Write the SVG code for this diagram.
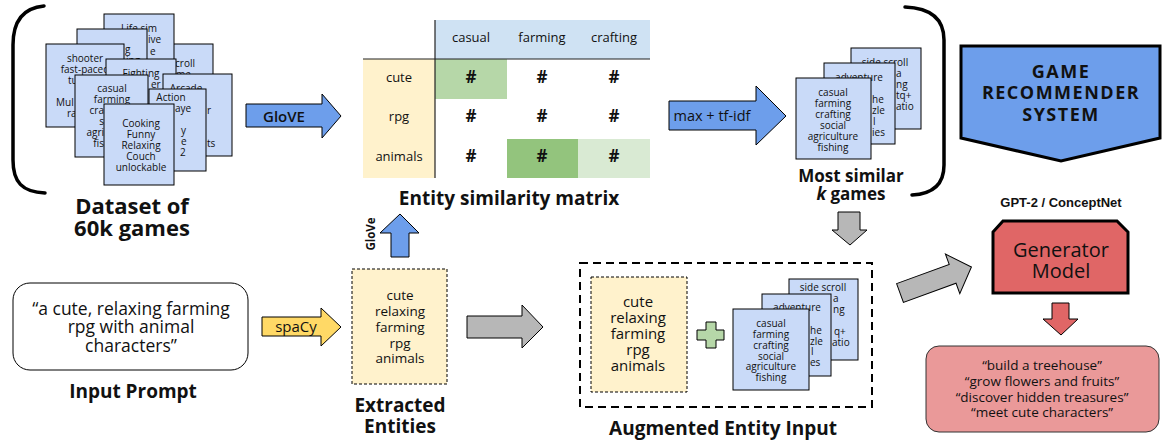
<svg xmlns="http://www.w3.org/2000/svg" width="1175" height="447" viewBox="0 0 1175 447">
<style>
text{font-family:"Open Sans","Liberation Sans",sans-serif;fill:#111;font-weight:500}
.card{fill:#c9daf8;stroke:#000;stroke-width:1}
.ct{font-size:10px;text-anchor:middle}
.fs{font-size:10px}
.ttl{font-size:19px;font-weight:700;text-anchor:middle}
.ar{stroke:#000;stroke-width:1}
.blue{fill:#6d9eeb}
.grey{fill:#b7b7b7}
.yel{fill:#fff2cc}
.mt{font-size:13px;text-anchor:middle}
.hs{font-size:17px;font-weight:700;text-anchor:middle}
.brk{fill:none;stroke:#000;stroke-width:3.5;stroke-linecap:round}
.dash{stroke:#000;stroke-width:1;stroke-dasharray:3 2}
</style>

<g id="bracket-left"><path class="brk" d="M44 6 C22 8 13 22 13 45 L13 160 C13 182 22 192 45 193"/></g>
<g id="bracket-right"><path class="brk" d="M905 7 C930 8 944 18 944 40 L944 165 C944 185 932 194 912 195"/></g>

<g id="dataset">
  <rect class="card" x="143" y="44" width="70" height="82"/>
  <text class="fs" x="175" y="66.5">croll</text>
  <text class="fs" x="176" y="77.5">me</text>
  <rect class="card" x="104" y="14" width="70" height="82"/>
  <text class="ct" x="139" y="31.5">Life sim</text>
  <text class="fs" x="148" y="42.5">ive</text>
  <text class="fs" x="150" y="54.5">e</text>
  <rect class="card" x="77" y="29" width="70" height="82"/>
  <text class="fs" x="125" y="52.5">g</text>
  <text class="fs" x="126" y="63.5">ing</text>
  <rect class="card" x="46" y="44" width="78" height="83"/>
  <text class="ct" x="85" y="61.5">shooter</text>
  <text class="ct" x="85" y="72.5">fast-paced</text>
  <text class="fs" x="68" y="83.5">tu</text>
  <text class="fs" x="56" y="105.5">Mul</text>
  <text class="fs" x="67" y="116.5">ra</text>
  <rect class="card" x="106" y="59" width="70" height="82"/>
  <text class="ct" x="141" y="76.5">Fighting</text>
  <text class="fs" x="151" y="87.5">er</text>
  <rect class="card" x="163" y="74" width="69" height="82"/>
  <text class="ct" x="186" y="91.5">Arcade</text>
  <text class="fs" x="207" y="113.5">r</text>
  <text class="fs" x="207" y="146.5">ts</text>
  <rect class="card" x="75" y="75" width="73" height="82"/>
  <text class="ct"><tspan x="112" y="91.5">casual</tspan><tspan x="112" y="102.5">farming</tspan></text>
  <text class="fs" text-anchor="end"><tspan x="104" y="113.5">cra</tspan><tspan x="104" y="124.5">s</tspan><tspan x="104" y="135.5">agri</tspan><tspan x="104" y="146.5">fis</tspan></text>
  <rect class="card" x="149" y="89" width="57" height="82"/>
  <text class="ct" x="171" y="100.5">Action</text>
  <text class="fs" x="175" y="111.5">aye</text>
  <text class="fs" x="181" y="133.5">y</text>
  <text class="fs" x="181" y="144.5">e</text>
  <text class="fs" x="180" y="155.5">2</text>
  <rect class="card" x="104" y="104" width="70" height="81"/>
  <text class="ct"><tspan x="141" y="126.5">Cooking</tspan><tspan x="141" y="137.5">Funny</tspan><tspan x="141" y="148.5">Relaxing</tspan><tspan x="141" y="159.5">Couch</tspan><tspan x="141" y="170.5">unlockable</tspan></text>
  <text class="ttl" x="132" y="214" style="font-size:22px">Dataset of</text>
  <text class="ttl" x="132" y="236" style="font-size:22px">60k games</text>
</g>

<g id="matrix">
  <rect x="435" y="20" width="215" height="39" fill="#cfe2f3"/>
  <rect x="363" y="59" width="72" height="119" fill="#fff2cc"/>
  <rect x="435" y="59" width="72" height="40" fill="#b6d7a8"/>
  <rect x="507" y="139" width="71" height="39" fill="#93c47d"/>
  <rect x="578" y="139" width="72" height="39" fill="#d9ead3"/>
  <line x1="435" y1="20" x2="435" y2="178" stroke="#222" stroke-width="1.2"/>
  <line x1="363" y1="59" x2="650" y2="59" stroke="#222" stroke-width="1.2"/>
  <text class="mt" x="471" y="41.5">casual</text>
  <text class="mt" x="542" y="41.5">farming</text>
  <text class="mt" x="614" y="41.5">crafting</text>
  <text class="mt" x="399" y="81.5">cute</text>
  <text class="mt" x="399" y="120.5">rpg</text>
  <text class="mt" x="399" y="160.5">animals</text>
  <text class="hs" x="471" y="83">#</text><text class="hs" x="542" y="83">#</text><text class="hs" x="614" y="83">#</text>
  <text class="hs" x="471" y="122">#</text><text class="hs" x="542" y="122">#</text><text class="hs" x="614" y="122">#</text>
  <text class="hs" x="471" y="162">#</text><text class="hs" x="542" y="162">#</text><text class="hs" x="614" y="162">#</text>
  <text class="ttl" x="509" y="205">Entity similarity matrix</text>
</g>

<g id="similar-games">
  <rect class="card" x="851" y="48" width="70" height="81"/>
  <text class="ct" x="885" y="65.5">side scroll</text>
  <text class="fs"><tspan x="896" y="76.5">a</tspan><tspan x="896" y="87.5">ng</tspan><tspan x="896" y="98.5">tq+</tspan><tspan x="896" y="109.5">atio</tspan></text>
  <rect class="card" x="824" y="63" width="71" height="81"/>
  <text class="ct" x="859" y="80.5">adventure</text>
  <text class="fs"><tspan x="872" y="102.5">he</tspan><tspan x="872" y="113.5">zle</tspan><tspan x="873" y="124.5">l</tspan><tspan x="872" y="135.5">ies</tspan></text>
  <rect class="card" x="796" y="78" width="75" height="81"/>
  <text class="ct"><tspan x="833" y="95.5">casual</tspan><tspan x="833" y="106.5">farming</tspan><tspan x="833" y="117.5">crafting</tspan><tspan x="833" y="128.5">social</tspan><tspan x="833" y="139.5">agriculture</tspan><tspan x="833" y="150.5">fishing</tspan></text>
  <text class="ttl" x="851" y="182" style="font-size:17px">Most similar</text>
  <text class="ttl" x="851" y="200" style="font-size:17px"><tspan font-style="italic">k</tspan> games</text>
</g>

<g id="recommender">
  <polygon points="961,46 1160,46 1160,138 1061,161 961,138" fill="#6d9eeb" stroke="#000" stroke-width="3"/>
  <text class="ttl" x="1061" y="78" style="font-size:18px;letter-spacing:1.5px">GAME</text>
  <text class="ttl" x="1061" y="99" style="font-size:18px;letter-spacing:1.5px">RECOMMENDER</text>
  <text class="ttl" x="1061" y="121" style="font-size:18px;letter-spacing:1.5px">SYSTEM</text>
</g>

<g id="generator">
  <text x="1061" y="207" text-anchor="middle" style="font-family:'Liberation Sans',Arial,sans-serif;font-size:13px;font-weight:700">GPT-2 / ConceptNet</text>
  <polygon points="993,232 1003,221 1117,221 1128,232 1128,293 993,293" fill="#e06666" stroke="#000" stroke-width="3"/>
  <text x="1061" y="257" text-anchor="middle" style="font-size:20px">Generator</text>
  <text x="1061" y="278" text-anchor="middle" style="font-size:20px">Model</text>
</g>

<g id="output">
  <rect x="926" y="346" width="233" height="86" rx="13" fill="#ea9999" stroke="#333" stroke-width="1"/>
  <text x="1042" y="370" text-anchor="middle" style="font-size:13.5px">“build a treehouse”</text>
  <text x="1042" y="386" text-anchor="middle" style="font-size:13.5px">“grow flowers and fruits”</text>
  <text x="1042" y="402" text-anchor="middle" style="font-size:13.5px">“discover hidden treasures”</text>
  <text x="1042" y="417" text-anchor="middle" style="font-size:13.5px">“meet cute characters”</text>
</g>

<g id="input-prompt">
  <rect x="13" y="283" width="235" height="87" rx="17" fill="#fff" stroke="#000" stroke-width="1"/>
  <text x="131" y="315" text-anchor="middle" style="font-size:17.5px">“a cute, relaxing farming</text>
  <text x="131" y="333" text-anchor="middle" style="font-size:17.5px">rpg with animal</text>
  <text x="131" y="352" text-anchor="middle" style="font-size:17.5px">characters”</text>
  <text class="ttl" x="133" y="398">Input Prompt</text>
</g>

<g id="extracted">
  <rect class="yel dash" x="352" y="269" width="95" height="115"/>
  <text text-anchor="middle" style="font-size:13.5px"><tspan x="400" y="300">cute</tspan><tspan x="400" y="316">relaxing</tspan><tspan x="400" y="331.5">farming</tspan><tspan x="400" y="347.5">rpg</tspan><tspan x="400" y="363">animals</tspan></text>
  <text class="ttl" x="400" y="412">Extracted</text>
  <text class="ttl" x="400" y="433">Entities</text>
</g>

<g id="augmented">
  <rect x="580" y="263" width="292" height="144" fill="none" stroke="#000" stroke-width="2" stroke-dasharray="8 5"/>
  <rect class="yel dash" x="591" y="277" width="96" height="115"/>
  <text text-anchor="middle" style="font-size:15px"><tspan x="638" y="307">cute</tspan><tspan x="638" y="323">relaxing</tspan><tspan x="638" y="339">farming</tspan><tspan x="638" y="355">rpg</tspan><tspan x="638" y="371">animals</tspan></text>
  <path d="M706 322 H716 V330 H724 V340 H716 V348 H706 V340 H697 V330 H706 Z" fill="#b6d7a8" stroke="#000" stroke-width="1"/>
  <rect class="card" x="789" y="279" width="69" height="81"/>
  <text class="ct" x="823" y="290.5">side scroll</text>
  <text class="fs"><tspan x="833" y="301.5">a</tspan><tspan x="833" y="312.5">ng</tspan><tspan x="834" y="334.5">q+</tspan><tspan x="832" y="345.5">atio</tspan></text>
  <rect class="card" x="762" y="294" width="69" height="82"/>
  <text class="ct" x="797" y="310.5">adventure</text>
  <text class="fs"><tspan x="810" y="333.5">he</tspan><tspan x="810" y="344.5">zle</tspan><tspan x="811" y="354.5">l</tspan><tspan x="810" y="366">es</tspan></text>
  <rect class="card" x="733" y="309" width="76" height="81"/>
  <text class="ct"><tspan x="771" y="326.5">casual</tspan><tspan x="771" y="337.5">farming</tspan><tspan x="771" y="348.5">crafting</tspan><tspan x="771" y="359.5">social</tspan><tspan x="771" y="370">agriculture</tspan><tspan x="771" y="380.5">fishing</tspan></text>
  <text class="ttl" x="723" y="435">Augmented Entity Input</text>
</g>

<g id="connectors">
  <polygon class="ar blue" points="246,104 322,104 322,94 341,116 322,138 322,127 246,127"/>
  <text x="284" y="121.5" text-anchor="middle" style="font-size:15px;font-weight:600">GloVE</text>
  <polygon class="ar blue" points="669,101 756,101 756,86 786,116 756,145 756,130 669,130"/>
  <text x="712" y="121" text-anchor="middle" style="font-size:14.5px">max + tf-idf</text>
  <polygon class="ar blue" points="391,257 391,233 380,233 400,214 419,233 409,233 409,257"/>
  <text transform="translate(375,234) rotate(-90)" text-anchor="middle" style="font-size:11.5px;font-weight:700">GloVe</text>
  <polygon class="ar" fill="#ffd966" points="262,317 321,317 321,308 341,327 321,346 321,336 262,336"/>
  <text x="296" y="332" text-anchor="middle" style="font-size:15px">spaCy</text>
  <polygon class="ar grey" points="467,316 522,316 522,305 543,327 522,348 522,338 467,338"/>
  <polygon class="ar grey" points="838,212 860,212 860,230 867,230 850,245 832,230 838,230"/>
  <polygon class="ar grey" transform="translate(900,293) rotate(-20)" points="0,-10 56,-10 56,-21 76,0 56,21 56,10 0,10"/>
  <polygon class="ar" fill="#e06666" points="1052,303 1069,303 1069,319 1078,319 1061,335 1043,319 1052,319"/>
</g>
</svg>
